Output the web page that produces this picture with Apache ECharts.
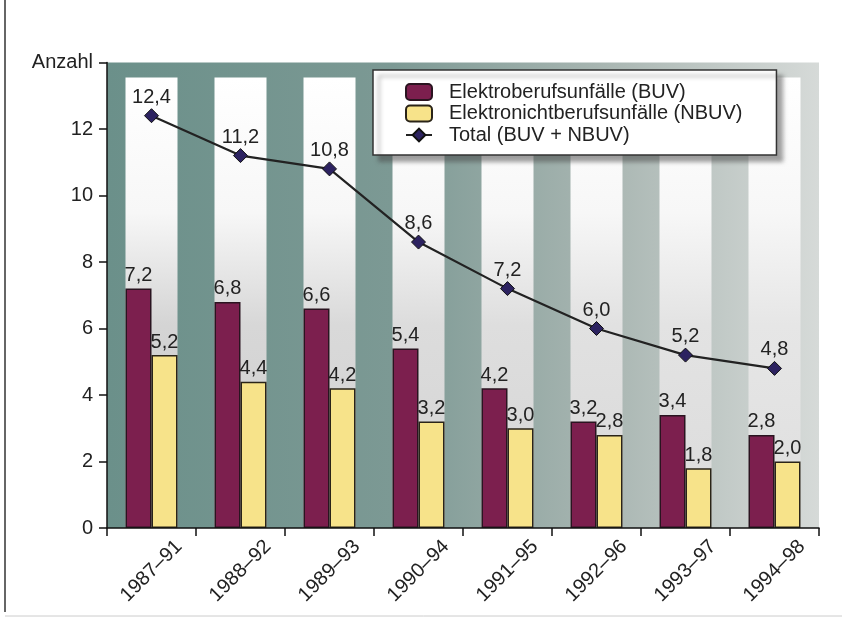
<!DOCTYPE html>
<html>
<head>
<meta charset="utf-8">
<script src="https://cdn.jsdelivr.net/npm/echarts@6/dist/echarts.min.js"></script>
<style>
html,body{margin:0;padding:0;background:#fff;}
#c{width:842px;height:619px;}
</style>
</head>
<body>
<div id="c"></div>
<script>
const categories = ['1987–91','1988–92','1989–93','1990–94','1991–95','1992–96','1993–97','1994–98'];
const buv = [7.2, 6.8, 6.6, 5.4, 4.2, 3.2, 3.4, 2.8];
const nbuv = [5.2, 4.4, 4.2, 3.2, 3.0, 2.8, 1.8, 2.0];
const total = [12.4, 11.2, 10.8, 8.6, 7.2, 6.0, 5.2, 4.8];
const yTicks = [0, 2, 4, 6, 8, 10, 12, 14];
const seriesNames = ['Elektroberufsunfälle (BUV)', 'Elektronichtberufsunfälle (NBUV)', 'Total (BUV + NBUV)'];

const FONT = 'Liberation Sans, Arial, Helvetica, sans-serif';
const fmt = v => v.toFixed(1).replace('.', ',');
const stripeTop = 13.55;

const chart = echarts.init(document.getElementById('c'), null, {renderer: 'canvas'});

const stripeColor = (idx) => {
  const t = idx / (categories.length - 1);
  const hex = n => Math.round(n).toString(16).padStart(2, '0');
  const mid = hex(0xd4 + (0xe6 - 0xd4) * t);
  const bot = hex(0xca + (0xde - 0xca) * t);
  return new echarts.graphic.LinearGradient(0, 0, 0, 1, [
    {offset: 0, color: '#ffffff'},
    {offset: 0.3, color: '#f7f7f7'},
    {offset: 0.55, color: '#' + mid + mid + mid},
    {offset: 1, color: '#' + bot + bot + bot}
  ]);
};

chart.setOption({
  animation: false,
  textStyle: {fontFamily: FONT},
  graphic: [
    {type: 'line', shape: {x1: 5, y1: 0, x2: 5, y2: 612}, style: {stroke: '#333', lineWidth: 1.5}, silent: true},
    {type: 'line', shape: {x1: 5, y1: 616, x2: 842, y2: 616}, style: {stroke: '#ccc', lineWidth: 1}, silent: true}
  ],
  grid: {
    left: 107, right: 23, top: 62.5, bottom: 91,
    show: true,
    borderWidth: 0,
    backgroundColor: new echarts.graphic.LinearGradient(0, 0, 1, 0, [
      {offset: 0, color: '#6b908a'},
      {offset: 0.4, color: '#7c9994'},
      {offset: 0.7, color: '#a9b6b2'},
      {offset: 1, color: '#d6dad8'}
    ])
  },
  legend: {
    orient: 'vertical',
    left: 373, top: 70,
    data: seriesNames,
    backgroundColor: '#ffffff',
    borderColor: '#333',
    borderWidth: 1.5,
    borderRadius: 0,
    padding: [12, 34, 10, 32],
    itemWidth: 26,
    itemHeight: 16,
    itemGap: 1.5,
    shadowColor: 'rgba(70,70,70,0.5)',
    shadowBlur: 4,
    shadowOffsetX: 6,
    shadowOffsetY: 6,
    textStyle: {fontFamily: FONT, fontSize: 20, color: '#222', lineHeight: 20, padding: [0, 0, 0, 12]}
  },
  xAxis: [{
    type: 'category',
    data: categories,
    boundaryGap: true,
    axisLine: {lineStyle: {color: '#111', width: 1.5}},
    axisTick: {show: true, length: 8, inside: false, lineStyle: {color: '#111', width: 1.5}},
    axisLabel: {
      rotate: 45, align: 'center', verticalAlign: 'middle', margin: 43,
      fontFamily: FONT, fontSize: 20, color: '#222'
    },
    z: 5
  }, {
    type: 'category',
    data: categories,
    show: false,
    boundaryGap: true
  }],
  yAxis: {
    type: 'value',
    min: 0, max: 14, interval: 2,
    axisLine: {show: true, lineStyle: {color: '#111', width: 1.5}},
    axisTick: {show: true, length: 8, inside: false, lineStyle: {color: '#111', width: 1.5}},
    splitLine: {show: false},
    axisLabel: {
      margin: 14, fontFamily: FONT, fontSize: 20, color: '#222',
      formatter: v => (v === yTicks[yTicks.length - 1] ? 'Anzahl' : String(v))
    },
    z: 5
  },
  series: [
    {
      name: 'stripes',
      type: 'bar',
      xAxisIndex: 1,
      data: categories.map((c, i) => ({value: stripeTop, itemStyle: {color: stripeColor(i)}})),
      barWidth: 52,
      silent: true,
      z: 0,
      legendHoverLink: false
    },
    {
      name: seriesNames[0],
      type: 'bar',
      data: buv,
      barWidth: 26,
      barGap: 0,
      itemStyle: {color: '#7c1f4e', borderColor: '#2a1420', borderWidth: 1.5},
      label: {show: true, position: 'top', distance: 3, fontFamily: FONT, fontSize: 20, color: '#222', formatter: p => fmt(p.value)},
      z: 2
    },
    {
      name: seriesNames[1],
      type: 'bar',
      data: nbuv,
      barWidth: 26,
      barGap: 0,
      itemStyle: {color: '#f7e38a', borderColor: '#2a2418', borderWidth: 1.5},
      label: {show: true, position: 'top', distance: 3, fontFamily: FONT, fontSize: 20, color: '#222', formatter: p => fmt(p.value)},
      z: 2
    },
    {
      name: seriesNames[2],
      type: 'line',
      data: total,
      symbol: 'diamond',
      symbolSize: 14,
      lineStyle: {color: '#222', width: 2.2},
      itemStyle: {color: '#2c2260', borderColor: '#111', borderWidth: 1},
      label: {show: true, position: 'top', distance: 1, fontFamily: FONT, fontSize: 20, color: '#222', formatter: p => fmt(p.value)},
      z: 4
    }
  ]
});
</script>
</body>
</html>
